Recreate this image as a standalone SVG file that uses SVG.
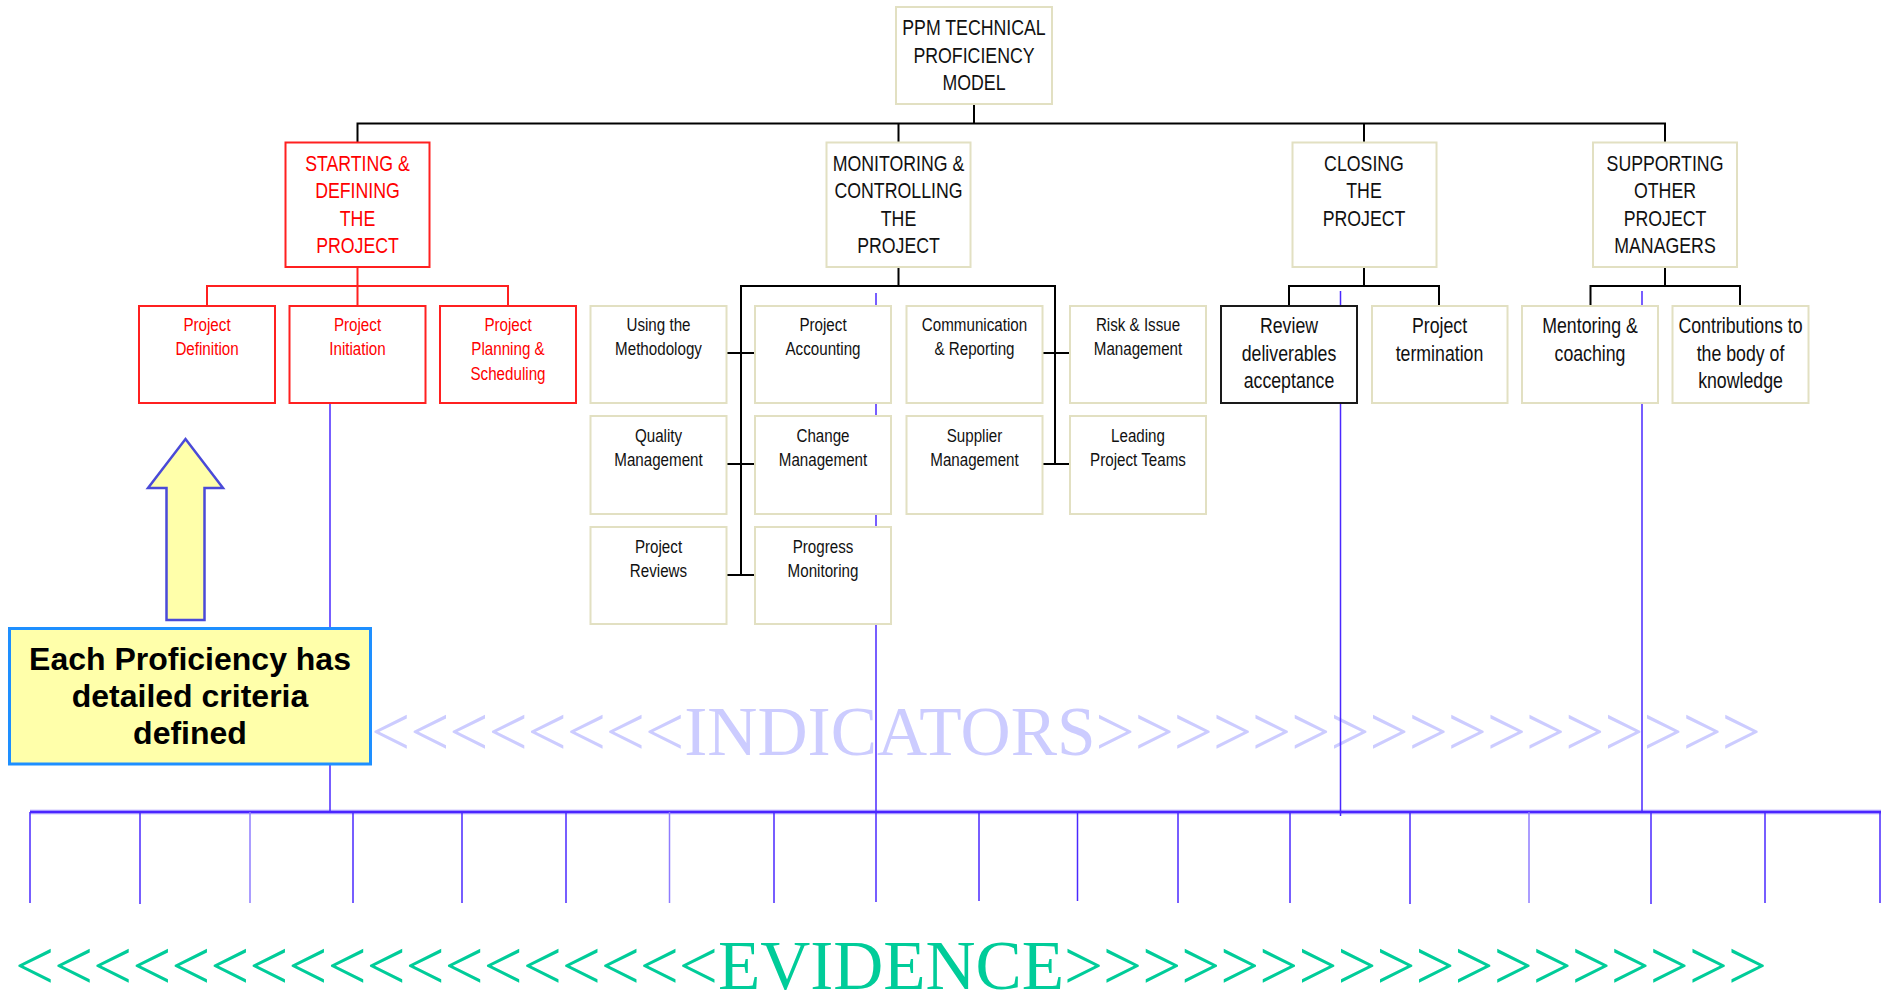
<svg xmlns="http://www.w3.org/2000/svg" width="1881" height="994" viewBox="0 0 1881 994">
<style>
.bx{fill:#fff;stroke:#e2e0c2;stroke-width:2}
.rb{fill:#fff;stroke:#ff2020;stroke-width:2}
.kb{fill:#fff;stroke:#1a1a1a;stroke-width:2}
.lg{font-family:"Liberation Sans",Arial,sans-serif;font-size:22px;text-anchor:middle;fill:#111}
.sm{font-family:"Liberation Sans",Arial,sans-serif;font-size:18.5px;text-anchor:middle;fill:#111}
.red{fill:#ff0000}
.conn{stroke:#000;stroke-width:2;fill:none}
.rconn{stroke:#ff2020;stroke-width:2;fill:none}
.bl{stroke:#4a28ff;stroke-width:1.5;fill:none}
.bll{stroke:#8f7cff;stroke-width:1.5;fill:none}
.big{font-family:"Liberation Serif","Times New Roman",serif;font-size:69px}
</style>

<text id="indicators" class="big" x="371" y="755" fill="#ccccff" textLength="1390" lengthAdjust="spacingAndGlyphs">&lt;&lt;&lt;&lt;&lt;&lt;&lt;&lt;INDICATORS&gt;&gt;&gt;&gt;&gt;&gt;&gt;&gt;&gt;&gt;&gt;&gt;&gt;&gt;&gt;&gt;&gt;</text>

<g id="evidence-lines">
<line x1="30" y1="812" x2="1881" y2="812" stroke="#a595ff" stroke-width="4.5"/>
<line x1="30" y1="812" x2="1881" y2="812" stroke="#4a25ff" stroke-width="2"/>
<line class="bl" x1="330" y1="403" x2="330" y2="812"/>
<line class="bl" x1="876" y1="293" x2="876" y2="902"/>
<line class="bl" x1="1340.5" y1="291" x2="1340.5" y2="816"/>
<line class="bl" x1="1642" y1="291" x2="1642" y2="812"/>
<line class="bl" x1="30" y1="812" x2="30" y2="903"/>
<line class="bl" x1="140" y1="812" x2="140" y2="904"/>
<line class="bll" x1="250" y1="812" x2="250" y2="903"/>
<line class="bl" x1="353" y1="812" x2="353" y2="903"/>
<line class="bl" x1="462" y1="812" x2="462" y2="903"/>
<line class="bl" x1="566" y1="812" x2="566" y2="903"/>
<line class="bll" x1="669.5" y1="812" x2="669.5" y2="903"/>
<line class="bl" x1="774" y1="812" x2="774" y2="903"/>
<line class="bl" x1="979" y1="812" x2="979" y2="901"/>
<line class="bl" x1="1077.5" y1="812" x2="1077.5" y2="901"/>
<line class="bl" x1="1178" y1="812" x2="1178" y2="903"/>
<line class="bl" x1="1290" y1="812" x2="1290" y2="903"/>
<line class="bl" x1="1410" y1="812" x2="1410" y2="904"/>
<line class="bll" x1="1529" y1="812" x2="1529" y2="903"/>
<line class="bl" x1="1651" y1="812" x2="1651" y2="904"/>
<line class="bl" x1="1765" y1="812" x2="1765" y2="903"/>
<line class="bl" x1="1880" y1="812" x2="1880" y2="903"/>
</g>

<g id="connectors">
<path class="conn" d="M974 104V123.5M357.5 142.5V123.5H1665V142.5M898.5 123.5V142.5M1364 123.5V142.5"/>
<path class="rconn" d="M357.5 267V306M207 306V286H508V306"/>
<path class="conn" d="M898.5 267V286M741 575V286H1055V464M727 353H755M727 464H755M727 575H755M1043 353H1070M1043 464H1070"/>
<path class="conn" d="M1364 267V286M1289 306V286H1439V306"/>
<path class="conn" d="M1665 267V286M1590.5 306V286H1740V306"/>
</g>

<g id="n-top"><rect class="bx" x="896" y="7" width="156" height="97"/>
<text class="lg" transform="translate(974 0) scale(0.806 1)"><tspan x="0" y="35">PPM TECHNICAL</tspan><tspan x="0" y="63">PROFICIENCY</tspan><tspan x="0" y="90.5">MODEL</tspan></text></g>

<g id="n-starting"><rect class="rb" x="285.5" y="142.5" width="144" height="124.5"/>
<text class="lg red" transform="translate(357.5 0) scale(0.806 1)"><tspan x="0" y="171">STARTING &amp;</tspan><tspan x="0" y="198.5">DEFINING</tspan><tspan x="0" y="226">THE</tspan><tspan x="0" y="253.5">PROJECT</tspan></text></g>

<g id="n-monitoring"><rect class="bx" x="826.5" y="142.5" width="144" height="124.5"/>
<text class="lg" transform="translate(898.5 0) scale(0.806 1)"><tspan x="0" y="171">MONITORING &amp;</tspan><tspan x="0" y="198.5">CONTROLLING</tspan><tspan x="0" y="226">THE</tspan><tspan x="0" y="253.5">PROJECT</tspan></text></g>

<g id="n-closing"><rect class="bx" x="1292.5" y="142.5" width="144" height="124.5"/>
<text class="lg" transform="translate(1364 0) scale(0.806 1)"><tspan x="0" y="171">CLOSING</tspan><tspan x="0" y="198.5">THE</tspan><tspan x="0" y="226">PROJECT</tspan></text></g>

<g id="n-supporting"><rect class="bx" x="1593" y="142.5" width="144" height="124.5"/>
<text class="lg" transform="translate(1665 0) scale(0.806 1)"><tspan x="0" y="171">SUPPORTING</tspan><tspan x="0" y="198.5">OTHER</tspan><tspan x="0" y="226">PROJECT</tspan><tspan x="0" y="253.5">MANAGERS</tspan></text></g>

<g id="n-project-definition"><rect class="rb" x="139" y="306" width="136" height="97"/>
<text class="sm red" transform="translate(207 0) scale(0.82 1)"><tspan x="0" y="331">Project</tspan><tspan x="0" y="355.5">Definition</tspan></text></g>

<g id="n-project-initiation"><rect class="rb" x="289.5" y="306" width="136" height="97"/>
<text class="sm red" transform="translate(357.5 0) scale(0.82 1)"><tspan x="0" y="331">Project</tspan><tspan x="0" y="355.5">Initiation</tspan></text></g>

<g id="n-project-planning"><rect class="rb" x="440" y="306" width="136" height="97"/>
<text class="sm red" transform="translate(508 0) scale(0.82 1)"><tspan x="0" y="331">Project</tspan><tspan x="0" y="355.5">Planning &amp;</tspan><tspan x="0" y="380">Scheduling</tspan></text></g>

<g id="n-methodology"><rect class="bx" x="590.5" y="306" width="136" height="97"/>
<text class="sm" transform="translate(658.5 0) scale(0.82 1)"><tspan x="0" y="331">Using the</tspan><tspan x="0" y="355.5">Methodology</tspan></text></g>

<g id="n-accounting"><rect class="bx" x="755" y="306" width="136" height="97"/>
<text class="sm" transform="translate(823 0) scale(0.82 1)"><tspan x="0" y="331">Project</tspan><tspan x="0" y="355.5">Accounting</tspan></text></g>

<g id="n-communication"><rect class="bx" x="906.5" y="306" width="136" height="97"/>
<text class="sm" transform="translate(974.5 0) scale(0.82 1)"><tspan x="0" y="331">Communication</tspan><tspan x="0" y="355.5">&amp; Reporting</tspan></text></g>

<g id="n-risk"><rect class="bx" x="1070" y="306" width="136" height="97"/>
<text class="sm" transform="translate(1138 0) scale(0.82 1)"><tspan x="0" y="331">Risk &amp; Issue</tspan><tspan x="0" y="355.5">Management</tspan></text></g>

<g id="n-quality"><rect class="bx" x="590.5" y="416" width="136" height="98"/>
<text class="sm" transform="translate(658.5 0) scale(0.82 1)"><tspan x="0" y="442">Quality</tspan><tspan x="0" y="466.5">Management</tspan></text></g>

<g id="n-change"><rect class="bx" x="755" y="416" width="136" height="98"/>
<text class="sm" transform="translate(823 0) scale(0.82 1)"><tspan x="0" y="442">Change</tspan><tspan x="0" y="466.5">Management</tspan></text></g>

<g id="n-supplier"><rect class="bx" x="906.5" y="416" width="136" height="98"/>
<text class="sm" transform="translate(974.5 0) scale(0.82 1)"><tspan x="0" y="442">Supplier</tspan><tspan x="0" y="466.5">Management</tspan></text></g>

<g id="n-leading"><rect class="bx" x="1070" y="416" width="136" height="98"/>
<text class="sm" transform="translate(1138 0) scale(0.82 1)"><tspan x="0" y="442">Leading</tspan><tspan x="0" y="466.5">Project Teams</tspan></text></g>

<g id="n-reviews"><rect class="bx" x="590.5" y="527" width="136" height="97"/>
<text class="sm" transform="translate(658.5 0) scale(0.82 1)"><tspan x="0" y="553">Project</tspan><tspan x="0" y="577.5">Reviews</tspan></text></g>

<g id="n-progress"><rect class="bx" x="755" y="527" width="136" height="97"/>
<text class="sm" transform="translate(823 0) scale(0.82 1)"><tspan x="0" y="553">Progress</tspan><tspan x="0" y="577.5">Monitoring</tspan></text></g>

<g id="n-review-deliverables"><rect class="kb" x="1221" y="306" width="136" height="97"/>
<text class="lg" transform="translate(1289 0) scale(0.806 1)"><tspan x="0" y="333.5">Review</tspan><tspan x="0" y="361">deliverables</tspan><tspan x="0" y="388.5">acceptance</tspan></text></g>

<g id="n-termination"><rect class="bx" x="1372" y="306" width="135.5" height="97"/>
<text class="lg" transform="translate(1439.5 0) scale(0.806 1)"><tspan x="0" y="333.5">Project</tspan><tspan x="0" y="361">termination</tspan></text></g>

<g id="n-mentoring"><rect class="bx" x="1522" y="306" width="136" height="97"/>
<text class="lg" transform="translate(1590 0) scale(0.806 1)"><tspan x="0" y="333.5">Mentoring &amp;</tspan><tspan x="0" y="361">coaching</tspan></text></g>

<g id="n-contributions"><rect class="bx" x="1672.5" y="306" width="136" height="97"/>
<text class="lg" transform="translate(1740.5 0) scale(0.806 1)"><tspan x="0" y="333.5">Contributions to</tspan><tspan x="0" y="361">the body of</tspan><tspan x="0" y="388.5">knowledge</tspan></text></g>

<g id="callout"><rect x="9.5" y="628.5" width="361" height="135.5" fill="#ffffaa" stroke="#1e8fff" stroke-width="3"/>
<text font-family="Liberation Sans, Arial, sans-serif" font-size="32" font-weight="bold" text-anchor="middle" fill="#000"><tspan x="190" y="670">Each Proficiency has</tspan><tspan x="190" y="707">detailed criteria</tspan><tspan x="190" y="744">defined</tspan></text></g>

<g id="up-arrow"><polygon points="185.5,439 223,488 204.5,488 204.5,620 166.5,620 166.5,488 148,488" fill="#ffffaa" stroke="#4a4ad8" stroke-width="2.5" stroke-linejoin="miter"/></g>

<text id="evidence" class="big" x="15" y="989" fill="#00cc99" textLength="1752" lengthAdjust="spacingAndGlyphs">&lt;&lt;&lt;&lt;&lt;&lt;&lt;&lt;&lt;&lt;&lt;&lt;&lt;&lt;&lt;&lt;&lt;&lt;EVIDENCE&gt;&gt;&gt;&gt;&gt;&gt;&gt;&gt;&gt;&gt;&gt;&gt;&gt;&gt;&gt;&gt;&gt;&gt;</text>
</svg>
